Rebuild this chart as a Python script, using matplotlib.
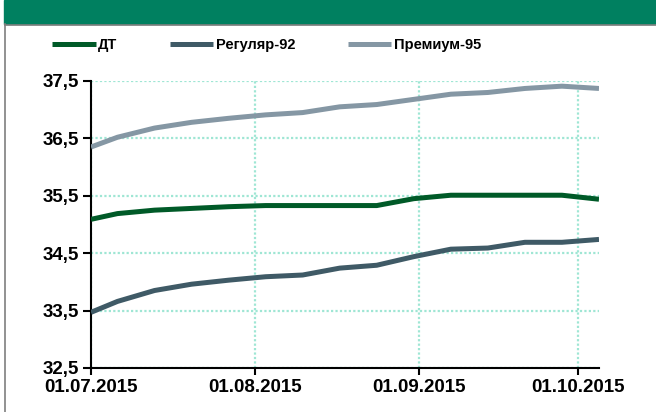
import matplotlib.dates as mdates
import numpy as np
import pandas as pd
from matplotlib import pyplot as plt
from matplotlib.lines import Line2D
from matplotlib.patches import Rectangle
from matplotlib.ticker import FuncFormatter

# Weekly price observations (rub/litre)
dates = pd.to_datetime([
    "2015-07-01", "2015-07-06", "2015-07-13", "2015-07-20", "2015-07-27",
    "2015-08-03", "2015-08-10", "2015-08-17", "2015-08-24", "2015-08-31",
    "2015-09-07", "2015-09-14", "2015-09-21", "2015-09-28", "2015-10-05",
])
dt = [35.09, 35.19, 35.25, 35.28, 35.31, 35.33, 35.33, 35.33, 35.33, 35.45,
      35.51, 35.51, 35.51, 35.51, 35.44]
regular92 = [33.47, 33.66, 33.85, 33.96, 34.03, 34.09, 34.12, 34.24, 34.29, 34.44,
             34.57, 34.59, 34.69, 34.69, 34.74]
premium95 = [36.35, 36.52, 36.68, 36.78, 36.85, 36.91, 36.95, 37.05, 37.09, 37.18,
             37.27, 37.30, 37.37, 37.41, 37.37]

series_names = ["ДТ", "Регуляр-92", "Премиум-95"]
series_colors = ["#005a28", "#3f5a66", "#8597a4"]
tick_dates = pd.to_datetime(["2015-07-01", "2015-08-01", "2015-09-01", "2015-10-01"])

plt.rcParams['font.family'] = ['Liberation Sans', 'DejaVu Sans']
plt.rcParams['font.weight'] = 'bold'

fig = plt.figure(figsize=(6.56, 4.12), dpi=100)

# green header strip and grey frame
fig.patches.append(Rectangle((4 / 656, 1 - 24 / 412), 1, 24 / 412,
                             transform=fig.transFigure, color="#008060", zorder=0))
fig.lines.append(Line2D([4.5 / 656, 1], [1 - 24.5 / 412] * 2, transform=fig.transFigure,
                        color="#7f7f7f", lw=1.2))
fig.lines.append(Line2D([4.5 / 656] * 2, [0, 1 - 24 / 412], transform=fig.transFigure,
                        color="#7f7f7f", lw=1.2))

ax = fig.add_axes([91 / 656, 1 - 368 / 412, (599 - 91) / 656, (368 - 81) / 412])

for values, name, color in zip([dt, regular92, premium95], series_names, series_colors):
    ax.plot(dates, values, color=color, lw=3.6, label=name,
            solid_capstyle='butt', solid_joinstyle='round', zorder=3)

ax.set_xlim(pd.Timestamp("2015-07-01"), pd.Timestamp("2015-10-05"))
ax.set_ylim(32.5, 37.5)
ax.set_xticks(tick_dates)
ax.xaxis.set_major_formatter(mdates.DateFormatter("%d.%m.%Y"))
ax.set_yticks(np.arange(32.5, 37.6, 1.0))
ax.yaxis.set_major_formatter(FuncFormatter(lambda v, p: f"{v:.1f}".replace(".", ",")))

ax.grid(True, color="#9fe6d4", linestyle=(0, (1, 1)), lw=1.6)
ax.set_axisbelow(True)
for side in ["top", "right"]:
    ax.spines[side].set_visible(False)
for side in ["left", "bottom"]:
    ax.spines[side].set_linewidth(1.5)
ax.tick_params(axis='x', labelsize=13.5, width=1.5, length=5, pad=3)
ax.tick_params(axis='y', labelsize=13.5, width=1.5, length=6, pad=3)

fig.legend(loc='center left', bbox_to_anchor=(52 / 656, 1 - 45 / 412), ncol=3,
           frameon=False, fontsize=10.5, handlelength=3.0, handletextpad=0.15,
           columnspacing=3.6, borderaxespad=0, borderpad=0)

fig.savefig("out.png", dpi=100)
